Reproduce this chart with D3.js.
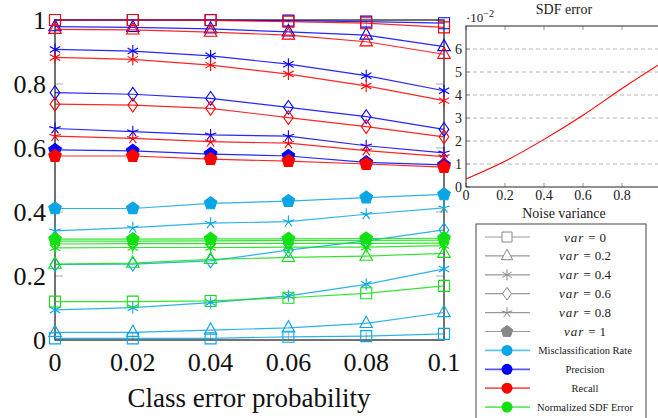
<!DOCTYPE html>
<html lang="en">
<head>
<meta charset="utf-8">
<title>class error probability</title>
<script src="https://d3js.org/d3.v7.min.js"></script>
<style>
body{margin:0;background:#fff;}
svg text{font-family:"Liberation Serif","DejaVu Serif","Times New Roman",Times,serif;}
</style>
</head>
<body>
<div id="chart"></div>
<script>
// x values of the main chart
var probs = [0, 0.02, 0.04, 0.06, 0.08, 0.1]
var variances = ["0", "0.2", "0.4", "0.6", "0.8", "1"]
var markers = ["square", "triangle", "asterisk", "diamond", "star", "pentagon"]

// one row per variance (0, 0.2, 0.4, 0.6, 0.8, 1)
var misclass = [
    [0.005, 0.005, 0.005, 0.010, 0.012, 0.019],
    [0.024, 0.024, 0.031, 0.038, 0.052, 0.086],
    [0.094, 0.101, 0.117, 0.138, 0.174, 0.222],
    [0.236, 0.237, 0.247, 0.281, 0.310, 0.344],
    [0.341, 0.351, 0.365, 0.370, 0.393, 0.413],
    [0.411, 0.411, 0.427, 0.434, 0.445, 0.455]
]
var precision = [
    [1.000, 1.000, 1.000, 0.998, 0.995, 0.990],
    [0.979, 0.977, 0.972, 0.963, 0.953, 0.917],
    [0.908, 0.903, 0.888, 0.862, 0.826, 0.779],
    [0.773, 0.768, 0.755, 0.727, 0.698, 0.658],
    [0.661, 0.651, 0.641, 0.637, 0.607, 0.585],
    [0.594, 0.591, 0.581, 0.575, 0.555, 0.547]
]
var recall = [
    [1.000, 1.000, 0.999, 0.995, 0.990, 0.977],
    [0.971, 0.969, 0.962, 0.953, 0.932, 0.893],
    [0.883, 0.877, 0.859, 0.831, 0.794, 0.748],
    [0.737, 0.734, 0.724, 0.695, 0.667, 0.635],
    [0.637, 0.630, 0.620, 0.615, 0.592, 0.573],
    [0.575, 0.575, 0.565, 0.559, 0.550, 0.540]
]
var sdfNorm = [
    [0.120, 0.120, 0.122, 0.132, 0.146, 0.169],
    [0.237, 0.240, 0.252, 0.258, 0.262, 0.271],
    [0.288, 0.289, 0.289, 0.290, 0.290, 0.295],
    [0.300, 0.301, 0.301, 0.302, 0.302, 0.303],
    [0.309, 0.309, 0.310, 0.311, 0.311, 0.312],
    [0.315, 0.315, 0.316, 0.316, 0.317, 0.318]
]
var yTicks = [0, 0.2, 0.4, 0.6, 0.8, 1]

// inset: SDF error vs noise variance (values x 10^-2)
var noiseVar = [0, 0.2, 0.4, 0.6, 0.8, 1]
var sdfError = [0.35, 1.12, 2.07, 3.12, 4.28, 5.38]
var insetYTicks = [0, 1, 2, 3, 4, 5, 6]
var insetXTicks = [0, 0.2, 0.4, 0.6, 0.8]

var metricNames = ["Misclassification Rate", "Precision", "Recall", "Normalized SDF Error"]
var metricColors = ["#0aa5e6", "#0000ff", "#ff0000", "#11e011"]

var w = 658, h = 418
var svg = d3.select("#chart").append("svg").attr("width", w).attr("height", h)

function markerPath(type, r){
    var p = d3.path(), i, a
    if(type == "square"){
        p.rect(-r, -r, 2*r, 2*r)
    }else if(type == "triangle"){
        var t = r*1.2
        p.moveTo(0, -t)
        p.lineTo(t*Math.cos(Math.PI/6), t*0.5 + 0.5)
        p.lineTo(-t*Math.cos(Math.PI/6), t*0.5 + 0.5)
        p.closePath()
    }else if(type == "diamond"){
        var d = r*1.15
        p.moveTo(0, -d); p.lineTo(0.7*d, 0); p.lineTo(0, d); p.lineTo(-0.7*d, 0); p.closePath()
    }else if(type == "asterisk"){
        for(i = 0; i < 3; i++){
            a = Math.PI/2 + i*Math.PI/3
            p.moveTo(r*Math.cos(a), r*Math.sin(a))
            p.lineTo(-r*Math.cos(a), -r*Math.sin(a))
        }
    }else if(type == "star"){
        for(i = 0; i < 5; i++){
            a = -Math.PI/2 + i*2*Math.PI/5
            p.moveTo(0, 0)
            p.lineTo(r*Math.cos(a), r*Math.sin(a))
        }
    }else if(type == "pentagon"){
        var q = r*1.1
        for(i = 0; i < 5; i++){
            a = -Math.PI/2 + i*2*Math.PI/5
            if(i == 0) p.moveTo(q*Math.cos(a), q*Math.sin(a))
            else p.lineTo(q*Math.cos(a), q*Math.sin(a))
        }
        p.closePath()
    }
    return p.toString()
}

// ---------- main chart ----------
var xScale = d3.scaleLinear().domain([0, 0.1]).range([55, 444])
var yScale = d3.scaleLinear().domain([0, 1]).range([340, 20])

var line = d3.line()
    .x(function(d, i){ return xScale(probs[i]) })
    .y(function(d){ return yScale(d) })

// ticks inside the box
var tickG = svg.append("g").attr("stroke", "#aaa").attr("stroke-width", 1)
yTicks.forEach(function(t){
    tickG.append("line").attr("x1", xScale(0)).attr("x2", xScale(0) + 8).attr("y1", yScale(t)).attr("y2", yScale(t))
    tickG.append("line").attr("x1", xScale(0.1)).attr("x2", xScale(0.1) - 8).attr("y1", yScale(t)).attr("y2", yScale(t))
})
probs.forEach(function(t){
    tickG.append("line").attr("x1", xScale(t)).attr("x2", xScale(t)).attr("y1", yScale(0)).attr("y2", yScale(0) - 8)
    tickG.append("line").attr("x1", xScale(t)).attr("x2", xScale(t)).attr("y1", yScale(1)).attr("y2", yScale(1) + 8)
})

svg.append("rect")
    .attr("x", xScale(0)).attr("y", yScale(1))
    .attr("width", xScale(0.1) - xScale(0)).attr("height", yScale(0) - yScale(1))
    .attr("fill", "none").attr("stroke", "#444").attr("stroke-width", 1.5)

var metrics = [misclass, precision, sdfNorm, recall]
var metricIdx = [0, 1, 3, 2]
metrics.forEach(function(rows, m){
    var col = metricColors[metricIdx[m]]
    rows.forEach(function(vals, v){
        var g = svg.append("g")
        g.append("path").attr("d", line(vals))
            .attr("fill", "none").attr("stroke", col).attr("stroke-width", 1.2).attr("stroke-opacity", 0.85)
        var filled = markers[v] == "pentagon"
        g.selectAll("path.mk").data(vals).enter().append("path")
            .attr("class", "mk")
            .attr("transform", function(d, i){ return "translate(" + xScale(probs[i]) + "," + yScale(d) + ")" })
            .attr("d", markerPath(markers[v], markers[v] == "square" ? 5.5 : 6))
            .attr("fill", filled ? col : "none")
            .attr("stroke", col).attr("stroke-width", 1.1)
    })
})

var tickFont = 26
svg.selectAll("text.ylab").data(yTicks).enter().append("text")
    .attr("x", 46).attr("y", function(d){ return yScale(d) })
    .attr("dy", "0.34em").attr("text-anchor", "end")
    .attr("font-size", tickFont).attr("fill", "#111")
    .text(function(d){ return d == 0 || d == 1 ? d : d.toFixed(1) })
svg.selectAll("text.xlab").data(probs).enter().append("text")
    .attr("x", function(d){ return xScale(d) }).attr("y", 362)
    .attr("dy", "0.34em").attr("text-anchor", "middle")
    .attr("font-size", tickFont).attr("fill", "#111")
    .text(function(d){ return d == 0 ? "0" : d == 0.1 ? "0.1" : d.toFixed(2) })
svg.append("text").attr("x", 249).attr("y", 407).attr("text-anchor", "middle")
    .attr("font-size", 27).attr("fill", "#111").text("Class error probability")

// ---------- inset chart ----------
var xs2 = d3.scaleLinear().domain([0, 1]).range([466, 661])
var ys2 = d3.scaleLinear().domain([0, 7]).range([187, 26])

svg.append("g").selectAll("line").data(insetYTicks.slice(1)).enter().append("line")
    .attr("x1", xs2(0)).attr("x2", xs2(1))
    .attr("y1", function(d){ return ys2(d) }).attr("y2", function(d){ return ys2(d) })
    .attr("stroke", "#b5b5b5").attr("stroke-dasharray", "4,3").attr("stroke-width", 1)

var t2 = svg.append("g").attr("stroke", "#999").attr("stroke-width", 1)
insetXTicks.forEach(function(t){
    t2.append("line").attr("x1", xs2(t)).attr("x2", xs2(t)).attr("y1", ys2(7)).attr("y2", ys2(7) + 4)
    t2.append("line").attr("x1", xs2(t)).attr("x2", xs2(t)).attr("y1", ys2(0)).attr("y2", ys2(0) - 4)
})
insetYTicks.forEach(function(t){
    t2.append("line").attr("x1", xs2(0)).attr("x2", xs2(0) + 4).attr("y1", ys2(t)).attr("y2", ys2(t))
})

svg.append("rect").attr("x", xs2(0)).attr("y", ys2(7))
    .attr("width", xs2(1) - xs2(0)).attr("height", ys2(0) - ys2(7))
    .attr("fill", "none").attr("stroke", "#222").attr("stroke-width", 1)

svg.append("path").datum(sdfError)
    .attr("d", d3.line().x(function(d, i){ return xs2(noiseVar[i]) }).y(function(d){ return ys2(d) }).curve(d3.curveMonotoneX))
    .attr("fill", "none").attr("stroke", "#ff0000").attr("stroke-width", 1.1)

svg.selectAll("text.y2").data(insetYTicks).enter().append("text")
    .attr("x", 462).attr("y", function(d){ return ys2(d) }).attr("dy", "0.35em")
    .attr("text-anchor", "end").attr("font-size", 14).attr("fill", "#222").text(function(d){ return d })
svg.selectAll("text.x2").data(insetXTicks).enter().append("text")
    .attr("x", function(d){ return xs2(d) }).attr("y", 195).attr("dy", "0.35em")
    .attr("text-anchor", "middle").attr("font-size", 14).attr("fill", "#222")
    .text(function(d){ return d == 0 ? "0" : d.toFixed(1) })

var mult = svg.append("text").attr("x", 466).attr("y", 22).attr("font-size", 13).attr("fill", "#222")
mult.append("tspan").text("·10")
mult.append("tspan").attr("dy", -5).attr("font-size", 10).text("−2")
svg.append("text").attr("x", 564).attr("y", 14).attr("text-anchor", "middle")
    .attr("font-size", 14).attr("fill", "#222").text("SDF error")
svg.append("text").attr("x", 564).attr("y", 218).attr("text-anchor", "middle")
    .attr("font-size", 14).attr("fill", "#222").text("Noise variance")

// ---------- legend ----------
var leg = svg.append("g")
leg.append("rect").attr("x", 476).attr("y", 224).attr("width", 170).attr("height", 200)
    .attr("fill", "#fff").attr("stroke", "#444").attr("stroke-width", 1)

var rowY = function(i){ return 237 + i*18.9 }
variances.forEach(function(v, i){
    var y = rowY(i)
    leg.append("line").attr("x1", 485).attr("x2", 530).attr("y1", y).attr("y2", y)
        .attr("stroke", "#999").attr("stroke-width", 1.2)
    leg.append("path").attr("transform", "translate(507," + y + ")")
        .attr("d", markerPath(markers[i], markers[i] == "square" ? 5 : 5.5))
        .attr("fill", markers[i] == "pentagon" ? "#888" : "#fff")
        .attr("stroke", "#888").attr("stroke-width", 1)
    var tx = leg.append("text").attr("x", 585).attr("y", y).attr("dy", "0.35em")
        .attr("text-anchor", "middle").attr("font-size", 13).attr("fill", "#222")
    tx.append("tspan").attr("font-style", "italic").attr("letter-spacing", 1).text("var")
    tx.append("tspan").attr("dx", 4).text("=")
    tx.append("tspan").attr("dx", 4).text(v)
})
metricNames.forEach(function(name, k){
    var y = rowY(6 + k)
    leg.append("line").attr("x1", 485).attr("x2", 530).attr("y1", y).attr("y2", y)
        .attr("stroke", metricColors[k]).attr("stroke-opacity", 0.65).attr("stroke-width", 1.8)
    leg.append("circle").attr("cx", 507).attr("cy", y).attr("r", 5.5).attr("fill", metricColors[k])
    leg.append("text").attr("x", 585).attr("y", y).attr("dy", "0.35em")
        .attr("text-anchor", "middle").attr("font-size", 10.5).attr("fill", "#222").text(name)
})
</script>
</body>
</html>
